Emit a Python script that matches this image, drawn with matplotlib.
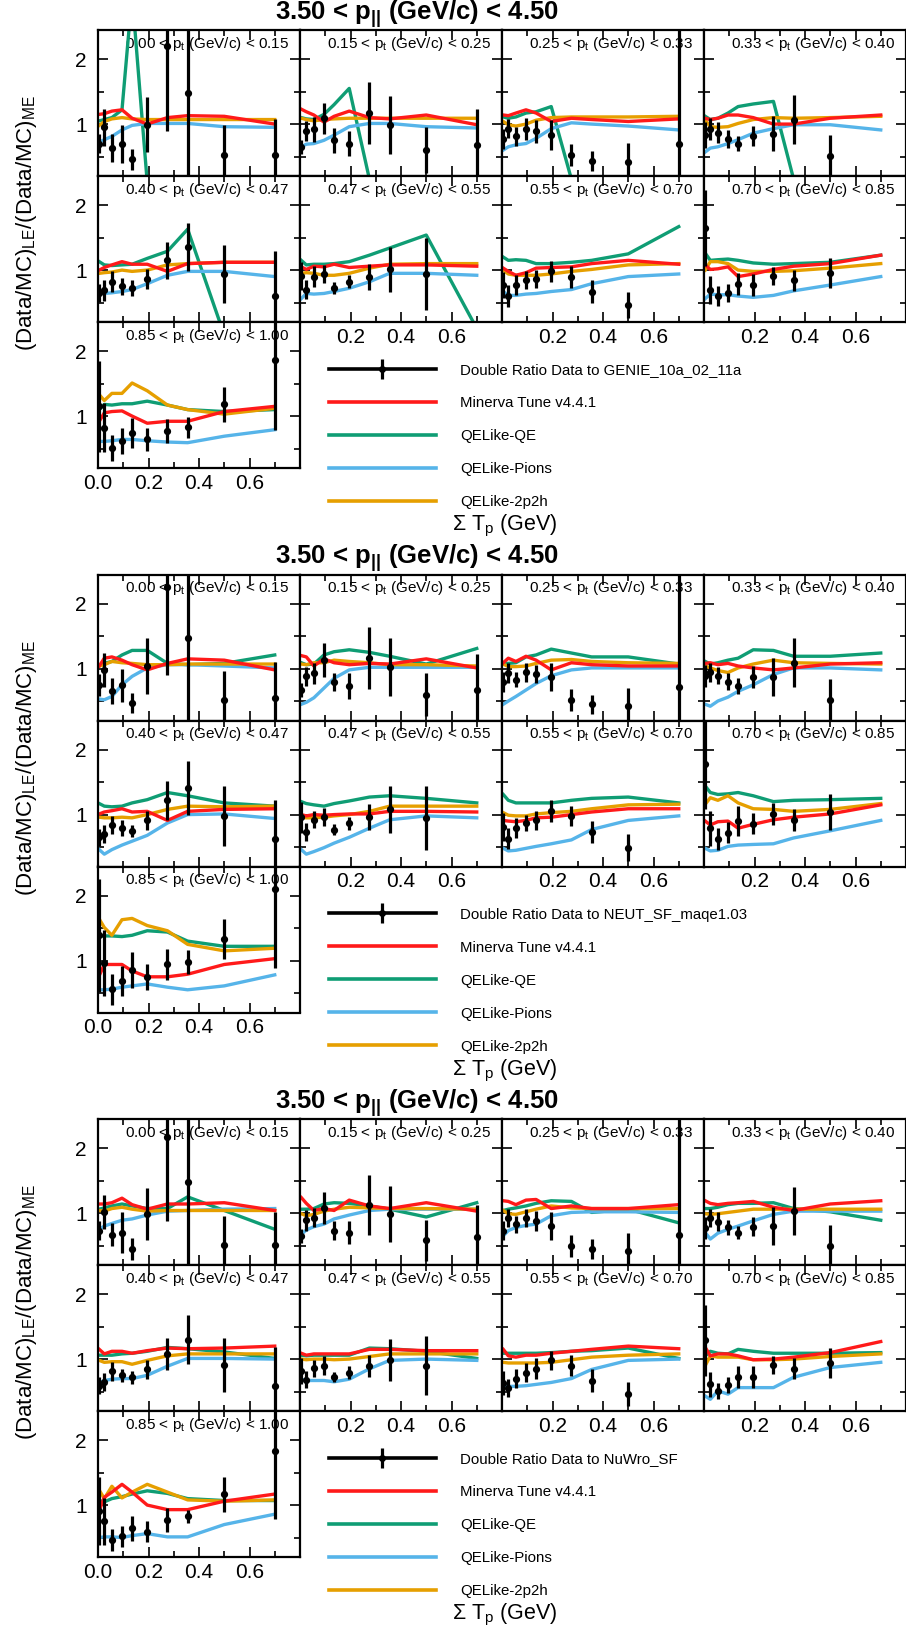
import numpy as np
import matplotlib
matplotlib.use("Agg")
import matplotlib.pyplot as plt
from matplotlib.lines import Line2D
from matplotlib.ticker import MultipleLocator

plt.rcParams['font.family'] = ['Liberation Sans', 'DejaVu Sans']
plt.rcParams['mathtext.fontset'] = 'custom'
plt.rcParams['mathtext.rm'] = 'Liberation Sans'
plt.rcParams['mathtext.it'] = 'Liberation Sans'
plt.rcParams['mathtext.bf'] = 'Liberation Sans:bold'
plt.rcParams['mathtext.default'] = 'regular'

nan = np.nan

# sum of proton kinetic energy, bin centres (GeV)
sum_tp = [0.005, 0.025, 0.055, 0.095, 0.135, 0.195, 0.275, 0.355, 0.5, 0.7]
# pt bin edges (GeV/c)
pt_edges = ["0.00", "0.15", "0.25", "0.33", "0.40", "0.47", "0.55", "0.70", "0.85", "1.00"]

# ---- GENIE_10a_02_11a ----
genie_data = [
    [0.70, 0.95, 0.63, 0.69, 0.46, 0.99, 2.20, 1.48, 0.53, 0.53],
    [0.65, 0.89, 0.92, 1.09, 0.75, 0.70, 1.17, 0.99, 0.60, 0.68],
    [0.77, 0.93, 0.81, 0.93, 0.89, 0.83, 0.52, 0.43, 0.41, 0.69],
    [0.83, 0.93, 0.87, 0.77, 0.70, 0.82, 0.85, 1.07, 0.51, nan],
    [0.65, 0.69, 0.82, 0.75, 0.72, 0.86, 1.15, 1.36, 0.94, 0.60],
    [0.91, 0.70, 0.90, 0.94, 0.72, 0.82, 0.90, 1.01, 0.94, nan],
    [0.77, 0.60, 0.77, 0.85, 0.86, 0.98, 0.89, 0.67, 0.46, nan],
    [1.65, 0.69, 0.60, 0.65, 0.79, 0.77, 0.91, 0.84, 0.95, nan],
    [1.15, 0.82, 0.51, 0.61, 0.74, 0.64, 0.77, 0.83, 1.18, 1.86],
]
genie_err = [
    [0.15, 0.28, 0.21, 0.29, 0.16, 0.42, 1.30, 1.40, 0.45, 0.55],
    [0.11, 0.15, 0.19, 0.24, 0.19, 0.19, 0.48, 0.45, 0.35, 0.55],
    [0.15, 0.15, 0.14, 0.17, 0.18, 0.23, 0.17, 0.15, 0.30, 1.80],
    [0.20, 0.17, 0.16, 0.14, 0.12, 0.15, 0.27, 0.38, 0.32, nan],
    [0.14, 0.16, 0.16, 0.13, 0.12, 0.15, 0.28, 0.37, 0.44, 0.70],
    [0.22, 0.14, 0.16, 0.14, 0.09, 0.10, 0.20, 0.34, 0.55, nan],
    [0.20, 0.17, 0.16, 0.14, 0.14, 0.16, 0.17, 0.17, 0.20, nan],
    [0.58, 0.22, 0.16, 0.14, 0.17, 0.17, 0.14, 0.16, 0.23, nan],
    [0.70, 0.38, 0.20, 0.20, 0.23, 0.18, 0.19, 0.16, 0.27, 1.07],
]
genie_tune = [
    [1.15, 1.16, 1.20, 1.22, 1.09, 1.00, 1.10, 1.13, 1.12, 1.00],
    [1.23, 1.19, 1.14, 1.03, 1.12, 1.20, 1.10, 1.08, 1.14, 0.99],
    [1.14, 1.13, 1.17, 1.22, 1.17, 1.04, 1.09, 1.07, 1.04, 1.08],
    [1.09, 1.07, 1.09, 1.14, 1.14, 1.10, 1.00, 1.00, 1.09, 1.14],
    [1.00, 1.04, 1.08, 1.13, 1.09, 1.09, 0.98, 1.10, 1.12, 1.12],
    [1.05, 1.01, 1.06, 1.05, 1.09, 1.04, 1.06, 1.08, 1.08, 1.06],
    [1.03, 0.98, 0.92, 0.96, 1.03, 1.04, 1.05, 1.10, 1.15, 1.09],
    [1.08, 1.01, 1.02, 1.05, 0.90, 0.94, 1.01, 1.06, 1.10, 1.23],
    [0.92, 1.05, 1.07, 1.08, 1.00, 0.89, 0.92, 0.92, 1.07, 1.15],
]
genie_qe = [
    [1.05, 1.07, 1.10, 1.22, 3.00, 0.10, 0.00, 0.00, 0.00, 0.00],
    [1.10, 1.08, 1.07, 1.15, 1.30, 1.55, 0.15, 0.00, 0.00, 0.00],
    [1.11, 1.09, 1.11, 1.17, 1.19, 1.27, 0.15, 0.00, 0.00, 0.00],
    [1.12, 1.07, 1.09, 1.17, 1.27, 1.31, 1.35, 0.15, 0.00, 0.00],
    [1.13, 1.08, 1.07, 1.08, 1.09, 1.18, 1.29, 1.63, 0.00, 0.00],
    [1.15, 1.08, 1.09, 1.09, 1.10, 1.13, 1.23, 1.34, 1.54, 0.10],
    [1.20, 1.15, 1.16, 1.15, 1.10, 1.10, 1.12, 1.15, 1.25, 1.67],
    [1.26, 1.15, 1.16, 1.17, 1.15, 1.11, 1.09, 1.10, 1.12, 1.23],
    [1.10, 1.18, 1.17, 1.19, 1.19, 1.23, 1.17, 1.10, 1.07, 1.10],
]
genie_pions = [
    [0.72, 0.76, 0.81, 0.91, 0.98, 1.01, 1.01, 1.01, 0.96, 0.95],
    [0.65, 0.69, 0.70, 0.75, 0.83, 0.96, 1.01, 1.01, 0.96, 0.94],
    [0.60, 0.65, 0.68, 0.70, 0.78, 0.93, 1.02, 1.00, 0.97, 0.91],
    [0.57, 0.63, 0.65, 0.70, 0.76, 0.86, 0.93, 0.99, 0.99, 0.91],
    [0.67, 0.64, 0.65, 0.67, 0.70, 0.79, 0.92, 0.98, 0.98, 0.90],
    [0.56, 0.64, 0.63, 0.64, 0.67, 0.72, 0.82, 0.95, 0.95, 0.92],
    [0.67, 0.61, 0.61, 0.63, 0.64, 0.67, 0.70, 0.79, 0.90, 0.94],
    [0.56, 0.63, 0.62, 0.62, 0.60, 0.58, 0.61, 0.68, 0.77, 0.90],
    [0.61, 0.61, 0.62, 0.64, 0.64, 0.62, 0.60, 0.59, 0.69, 0.79],
]
genie_2p2h = [
    [0.98, 1.04, 1.08, 1.10, 1.08, 1.07, 1.07, 1.07, 1.07, 1.07],
    [1.09, 1.07, 1.05, 1.07, 1.08, 1.09, 1.09, 1.09, 1.09, 1.09],
    [1.04, 0.99, 0.97, 1.00, 1.06, 1.10, 1.11, 1.11, 1.11, 1.12],
    [1.06, 0.96, 0.95, 0.96, 1.01, 1.07, 1.10, 1.09, 1.10, 1.12],
    [0.95, 0.96, 0.97, 1.00, 0.98, 1.00, 1.08, 1.10, 1.12, 1.12],
    [0.95, 0.96, 0.95, 0.92, 0.92, 0.95, 1.03, 1.09, 1.10, 1.10],
    [1.00, 0.94, 0.92, 0.92, 0.92, 0.94, 0.98, 1.01, 1.08, 1.10],
    [1.00, 1.13, 1.13, 1.10, 1.00, 0.98, 0.98, 0.99, 1.03, 1.10],
    [1.33, 1.24, 1.35, 1.35, 1.51, 1.39, 1.17, 1.10, 1.03, 1.12],
]

# ---- NEUT_SF_maqe1.03 ----
neut_data = [
    [0.75, 0.98, 0.65, 0.74, 0.47, 1.04, 2.25, 1.47, 0.52, 0.55],
    [0.67, 0.88, 0.93, 1.13, 0.79, 0.73, 1.16, 1.02, 0.60, 0.67],
    [0.79, 0.93, 0.83, 0.94, 0.92, 0.87, 0.52, 0.45, 0.42, 0.72],
    [0.88, 0.94, 0.89, 0.80, 0.73, 0.87, 0.87, 1.09, 0.52, nan],
    [0.65, 0.70, 0.84, 0.79, 0.75, 0.91, 1.22, 1.41, 0.98, 0.63],
    [0.96, 0.73, 0.92, 0.96, 0.77, 0.87, 0.96, 1.08, 0.95, nan],
    [0.81, 0.63, 0.79, 0.87, 0.91, 1.05, 0.98, 0.73, 0.49, nan],
    [1.78, 0.79, 0.63, 0.72, 0.90, 0.86, 1.01, 0.91, 1.04, nan],
    [1.39, 0.96, 0.56, 0.69, 0.86, 0.74, 0.94, 0.98, 1.33, 2.10],
]
neut_err = [
    [0.17, 0.26, 0.20, 0.26, 0.16, 0.43, 1.35, 1.40, 0.45, 0.55],
    [0.11, 0.15, 0.16, 0.26, 0.14, 0.20, 0.48, 0.45, 0.33, 0.55],
    [0.15, 0.15, 0.12, 0.14, 0.14, 0.22, 0.17, 0.15, 0.28, 1.80],
    [0.17, 0.14, 0.13, 0.13, 0.12, 0.17, 0.30, 0.38, 0.32, nan],
    [0.13, 0.14, 0.14, 0.12, 0.09, 0.15, 0.30, 0.42, 0.46, 0.60],
    [0.24, 0.14, 0.13, 0.14, 0.09, 0.10, 0.20, 0.36, 0.49, nan],
    [0.22, 0.16, 0.15, 0.13, 0.14, 0.17, 0.16, 0.17, 0.21, nan],
    [0.70, 0.27, 0.17, 0.16, 0.23, 0.16, 0.17, 0.17, 0.27, nan],
    [0.87, 0.51, 0.24, 0.23, 0.28, 0.20, 0.24, 0.19, 0.31, 1.22],
]
neut_tune = [
    [1.04, 1.16, 1.18, 1.13, 1.06, 0.98, 1.08, 1.15, 1.13, 0.98],
    [1.20, 1.18, 1.04, 1.15, 1.09, 1.06, 1.08, 1.07, 1.15, 1.01],
    [1.09, 1.16, 1.11, 1.19, 1.13, 0.98, 1.09, 1.06, 1.04, 1.04],
    [1.08, 1.09, 1.06, 1.08, 1.04, 1.01, 0.98, 1.01, 1.07, 1.09],
    [1.01, 1.04, 1.06, 1.09, 1.04, 1.05, 0.91, 1.05, 1.08, 1.09],
    [1.00, 0.98, 1.00, 0.99, 1.00, 1.01, 1.01, 1.05, 1.05, 1.04],
    [0.91, 0.90, 0.89, 0.91, 0.95, 0.96, 1.00, 1.04, 1.09, 1.09],
    [0.90, 0.84, 0.89, 0.90, 0.79, 0.85, 0.92, 0.96, 1.01, 1.15],
    [0.77, 0.94, 0.94, 0.94, 0.84, 0.75, 0.75, 0.79, 0.94, 1.03],
]
neut_qe = [
    [1.04, 1.08, 1.11, 1.21, 1.28, 1.28, 1.08, 1.06, 1.08, 1.21],
    [1.09, 1.06, 1.07, 1.21, 1.26, 1.29, 1.25, 1.19, 1.07, 1.31],
    [1.08, 1.08, 1.09, 1.18, 1.21, 1.30, 1.24, 1.18, 1.18, 1.07],
    [1.11, 1.07, 1.09, 1.13, 1.16, 1.29, 1.28, 1.19, 1.19, 1.24],
    [1.17, 1.13, 1.12, 1.13, 1.18, 1.23, 1.34, 1.29, 1.18, 1.13],
    [1.20, 1.17, 1.15, 1.13, 1.17, 1.21, 1.27, 1.29, 1.25, 1.18],
    [1.31, 1.22, 1.18, 1.18, 1.18, 1.18, 1.22, 1.25, 1.27, 1.18],
    [1.44, 1.34, 1.31, 1.32, 1.34, 1.29, 1.20, 1.22, 1.23, 1.25],
    [1.37, 1.38, 1.38, 1.37, 1.39, 1.46, 1.44, 1.30, 1.22, 1.22],
]
neut_pions = [
    [0.53, 0.52, 0.57, 0.75, 0.88, 1.01, 1.06, 1.06, 1.04, 1.01],
    [0.45, 0.48, 0.55, 0.70, 0.85, 0.98, 1.02, 1.02, 1.02, 1.02],
    [0.45, 0.50, 0.57, 0.67, 0.77, 0.89, 0.98, 1.01, 1.01, 1.01],
    [0.45, 0.42, 0.50, 0.56, 0.65, 0.75, 0.91, 1.01, 1.01, 0.98],
    [0.46, 0.39, 0.46, 0.53, 0.59, 0.68, 0.87, 1.00, 1.01, 0.94],
    [0.46, 0.39, 0.43, 0.49, 0.56, 0.65, 0.79, 0.92, 0.98, 0.95],
    [0.48, 0.44, 0.45, 0.48, 0.51, 0.55, 0.61, 0.77, 0.91, 0.98],
    [0.48, 0.44, 0.45, 0.51, 0.53, 0.54, 0.55, 0.64, 0.75, 0.91],
    [0.55, 0.55, 0.56, 0.59, 0.61, 0.64, 0.59, 0.55, 0.61, 0.78],
]
neut_2p2h = [
    [1.04, 1.06, 1.11, 1.09, 1.08, 1.06, 1.06, 1.07, 1.07, 1.07],
    [1.07, 1.06, 1.09, 1.09, 1.13, 1.11, 1.09, 1.06, 1.06, 1.04],
    [1.07, 1.03, 1.03, 1.04, 1.08, 1.13, 1.14, 1.11, 1.09, 1.08],
    [1.04, 1.01, 0.97, 0.94, 1.01, 1.07, 1.13, 1.09, 1.08, 1.07],
    [0.96, 0.95, 0.95, 0.96, 0.95, 1.00, 1.08, 1.13, 1.12, 1.13],
    [0.96, 0.95, 0.95, 0.96, 0.98, 1.00, 1.05, 1.13, 1.13, 1.13],
    [1.03, 0.99, 0.98, 0.98, 1.01, 1.03, 1.05, 1.09, 1.15, 1.16],
    [1.16, 1.26, 1.22, 1.29, 1.18, 1.09, 1.08, 1.05, 1.08, 1.17],
    [1.64, 1.51, 1.39, 1.63, 1.65, 1.54, 1.46, 1.25, 1.15, 1.19],
]

# ---- NuWro_SF ----
nuwro_data = [
    [0.73, 1.02, 0.67, 0.70, 0.45, 0.99, 2.18, 1.48, 0.51, 0.51],
    [0.65, 0.89, 0.93, 1.08, 0.73, 0.70, 1.13, 0.98, 0.58, 0.63],
    [0.73, 0.92, 0.83, 0.93, 0.88, 0.80, 0.50, 0.45, 0.42, 0.67],
    [0.77, 0.92, 0.87, 0.78, 0.70, 0.79, 0.80, 1.03, 0.50, nan],
    [0.59, 0.65, 0.81, 0.75, 0.72, 0.84, 1.08, 1.30, 0.91, 0.58],
    [0.82, 0.68, 0.86, 0.90, 0.72, 0.79, 0.89, 0.99, 0.90, nan],
    [0.63, 0.56, 0.70, 0.79, 0.85, 0.98, 0.90, 0.67, 0.46, nan],
    [1.29, 0.61, 0.51, 0.60, 0.72, 0.73, 0.91, 0.85, 0.94, nan],
    [0.91, 0.75, 0.46, 0.52, 0.64, 0.59, 0.77, 0.83, 1.17, 1.84],
]
nuwro_err = [
    [0.15, 0.26, 0.18, 0.32, 0.17, 0.40, 1.30, 1.40, 0.45, 0.50],
    [0.11, 0.16, 0.15, 0.25, 0.15, 0.18, 0.46, 0.43, 0.32, 0.50],
    [0.15, 0.14, 0.13, 0.14, 0.15, 0.22, 0.17, 0.15, 0.27, 1.80],
    [0.17, 0.14, 0.14, 0.12, 0.10, 0.15, 0.29, 0.37, 0.31, nan],
    [0.13, 0.14, 0.14, 0.10, 0.10, 0.15, 0.25, 0.38, 0.42, 0.60],
    [0.20, 0.13, 0.13, 0.14, 0.08, 0.10, 0.17, 0.32, 0.45, nan],
    [0.18, 0.14, 0.15, 0.15, 0.16, 0.15, 0.16, 0.17, 0.19, nan],
    [0.55, 0.19, 0.12, 0.12, 0.17, 0.17, 0.14, 0.16, 0.23, nan],
    [0.52, 0.36, 0.17, 0.16, 0.19, 0.16, 0.18, 0.10, 0.27, 1.05],
]
nuwro_tune = [
    [1.14, 1.14, 1.16, 1.23, 1.13, 1.06, 1.14, 1.14, 1.16, 1.04],
    [1.24, 1.15, 1.04, 1.07, 1.04, 1.20, 1.11, 1.07, 1.16, 1.03],
    [1.19, 1.18, 1.13, 1.20, 1.21, 1.07, 1.11, 1.07, 1.07, 1.13],
    [1.19, 1.15, 1.13, 1.15, 1.16, 1.18, 1.09, 1.04, 1.14, 1.19],
    [1.15, 1.08, 1.12, 1.12, 1.09, 1.13, 1.17, 1.16, 1.17, 1.20],
    [1.09, 1.06, 1.08, 1.08, 1.08, 1.08, 1.15, 1.15, 1.13, 1.13],
    [1.15, 1.05, 1.03, 1.06, 1.06, 1.09, 1.12, 1.15, 1.20, 1.16],
    [1.18, 1.05, 1.08, 1.08, 1.05, 0.99, 1.00, 1.03, 1.10, 1.27],
    [0.92, 1.12, 1.20, 1.32, 1.20, 1.00, 0.93, 0.93, 1.06, 1.17],
]
nuwro_qe = [
    [1.06, 1.08, 1.11, 1.14, 1.11, 1.07, 1.07, 1.25, 1.04, 0.75],
    [1.06, 1.06, 1.07, 1.14, 1.16, 1.15, 1.11, 1.06, 0.94, 1.16],
    [1.04, 1.06, 1.08, 1.11, 1.15, 1.19, 1.18, 1.01, 1.06, 0.85],
    [1.07, 1.07, 1.09, 1.13, 1.15, 1.15, 1.16, 1.07, 1.02, 0.89],
    [1.06, 1.06, 1.06, 1.08, 1.09, 1.12, 1.18, 1.16, 1.11, 1.01],
    [1.06, 1.05, 1.06, 1.06, 1.06, 1.06, 1.17, 1.16, 1.12, 1.01],
    [1.09, 1.09, 1.09, 1.09, 1.09, 1.10, 1.12, 1.13, 1.17, 1.01],
    [1.05, 1.12, 1.09, 1.08, 1.15, 1.12, 1.09, 1.09, 1.09, 1.10],
    [1.07, 1.05, 1.10, 1.13, 1.17, 1.22, 1.18, 1.10, 1.07, 1.07],
]
nuwro_pions = [
    [0.75, 0.80, 0.84, 0.89, 0.91, 0.97, 1.03, 1.04, 1.06, 1.07],
    [0.67, 0.74, 0.79, 0.83, 0.91, 0.97, 1.04, 1.06, 1.06, 1.06],
    [0.65, 0.73, 0.78, 0.81, 0.83, 0.96, 1.01, 1.02, 1.02, 1.01],
    [0.70, 0.60, 0.69, 0.75, 0.80, 0.88, 0.98, 1.03, 1.03, 1.03],
    [0.63, 0.67, 0.69, 0.70, 0.70, 0.75, 0.89, 1.01, 1.01, 1.00],
    [0.69, 0.67, 0.67, 0.67, 0.65, 0.69, 0.85, 0.98, 1.00, 0.98],
    [0.60, 0.58, 0.58, 0.59, 0.61, 0.64, 0.70, 0.84, 0.98, 1.00],
    [0.43, 0.38, 0.51, 0.46, 0.56, 0.56, 0.56, 0.72, 0.87, 0.95],
    [0.50, 0.51, 0.51, 0.50, 0.53, 0.56, 0.51, 0.51, 0.70, 0.86],
]
nuwro_2p2h = [
    [1.04, 1.03, 1.07, 1.09, 1.06, 1.03, 1.04, 1.04, 1.04, 1.04],
    [0.99, 0.96, 0.98, 1.03, 1.06, 1.09, 1.08, 1.07, 1.07, 1.06],
    [1.04, 0.99, 0.98, 1.02, 1.06, 1.11, 1.08, 1.07, 1.07, 1.07],
    [0.99, 0.98, 0.99, 1.01, 1.03, 1.06, 1.06, 1.06, 1.06, 1.06],
    [0.98, 0.95, 0.96, 0.96, 0.92, 0.98, 1.05, 1.08, 1.08, 1.08],
    [1.00, 0.99, 1.00, 1.00, 0.99, 1.00, 1.04, 1.08, 1.08, 1.08],
    [0.95, 0.94, 0.94, 0.94, 0.94, 0.95, 0.99, 1.03, 1.06, 1.08],
    [0.90, 1.05, 1.03, 1.03, 1.03, 0.99, 0.99, 1.00, 1.04, 1.08],
    [1.23, 1.10, 1.29, 1.11, 1.20, 1.32, 1.20, 1.08, 1.06, 1.08],
]

generators = ["GENIE_10a_02_11a", "NEUT_SF_maqe1.03", "NuWro_SF"]
model_names = ["Minerva Tune v4.4.1", "QELike-QE", "QELike-Pions", "QELike-2p2h"]

RED = "#ff1a1a"
GREEN = "#0f9d74"
BLUE = "#56b4e9"
ORANGE = "#e69f00"

W, H = 906, 1634
fig = plt.figure(figsize=(W / 100, H / 100), dpi=100)


def rect(left, top, w, h):
    return [left / W, 1 - (top + h) / H, w / W, h / H]


blocks = [
    (genie_data, genie_err, genie_tune, genie_qe, genie_pions, genie_2p2h),
    (neut_data, neut_err, neut_tune, neut_qe, neut_pions, neut_2p2h),
    (nuwro_data, nuwro_err, nuwro_tune, nuwro_qe, nuwro_pions, nuwro_2p2h),
]

LW = 2.4
for b, (dat, err, tune, qe, pions, mec) in enumerate(blocks):
    top = 30 + b * 544.5
    for i in range(9):
        r, c = divmod(i, 4)
        ax = fig.add_axes(rect(98 + c * 202, top + r * 146, 202, 146))
        ax.plot(sum_tp, qe[i], color=GREEN, lw=LW, zorder=2)
        ax.plot(sum_tp, pions[i], color=BLUE, lw=LW, zorder=2)
        ax.plot(sum_tp, mec[i], color=ORANGE, lw=LW, zorder=2)
        ax.plot(sum_tp, tune[i], color=RED, lw=LW, zorder=2)
        ax.errorbar(sum_tp, dat[i], yerr=err[i], fmt='o', color='k', ms=4.2,
                    elinewidth=2.3, capsize=0, zorder=4)
        ax.text(0.945, 0.88, f"{pt_edges[i]} < p$_t$ (GeV/c) < {pt_edges[i + 1]}",
                transform=ax.transAxes, ha='right', va='baseline', fontsize=11, zorder=1)
        ax.set_xlim(0, 0.8)
        ax.set_ylim(0.2, 2.45)
        ax.set_xticks([0, 0.2, 0.4, 0.6])
        ax.xaxis.set_minor_locator(MultipleLocator(0.1))
        ax.set_yticks([1, 2])
        ax.yaxis.set_minor_locator(MultipleLocator(0.5))
        ax.tick_params(which='both', direction='in', top=True, right=True, width=1.2)
        ax.tick_params(which='major', length=7, labelsize=15)
        ax.tick_params(which='minor', length=4)
        ax.tick_params(axis='x', pad=4)
        ax.tick_params(axis='y', pad=8)
        for s in ax.spines.values():
            s.set_linewidth(1.6)
        show_x = (r == 2) or (r == 1 and c > 0)
        ax.set_xticklabels(["0.0" if c == 0 else "", "0.2", "0.4", "0.6"])
        ax.set_yticklabels(["1", "2"])
        ax.tick_params(labelbottom=show_x, labelleft=(c == 0))

    fig.text(417 / W, 1 - (top - 16) / H, "3.50 < p$_{||}$ (GeV/c) < 4.50",
             ha='center', va='center', fontsize=18.5, fontweight='bold')
    fig.text(505 / W, 1 - (top + 496) / H, "Σ T$_p$ (GeV)",
             ha='center', va='center', fontsize=15.5)
    fig.text(27 / W, 1 - (top + 193) / H, "(Data/MC)$_{LE}$/(Data/MC)$_{ME}$",
             ha='center', va='center', rotation=90, fontsize=16)

    data_handle = (Line2D([], [], color='k', lw=2.6),
                   Line2D([], [], color='k', marker='|', ms=15, mew=2.3, ls='none'),
                   Line2D([], [], color='k', marker='o', ms=4, ls='none'))
    handles = [data_handle] + [Line2D([], [], color=col, lw=2.6)
                               for col in (RED, GREEN, BLUE, ORANGE)]
    labels = [f"Double Ratio Data to {generators[b]}"] + model_names
    fig.legend(handles, labels, loc='upper left',
               bbox_to_anchor=(329 / W, 1 - (top + 333) / H),
               frameon=False, fontsize=10.8, handlelength=7.1, handletextpad=1.65,
               labelspacing=1.27, borderpad=0, borderaxespad=0, numpoints=1)

fig.savefig("out.png", dpi=100)
